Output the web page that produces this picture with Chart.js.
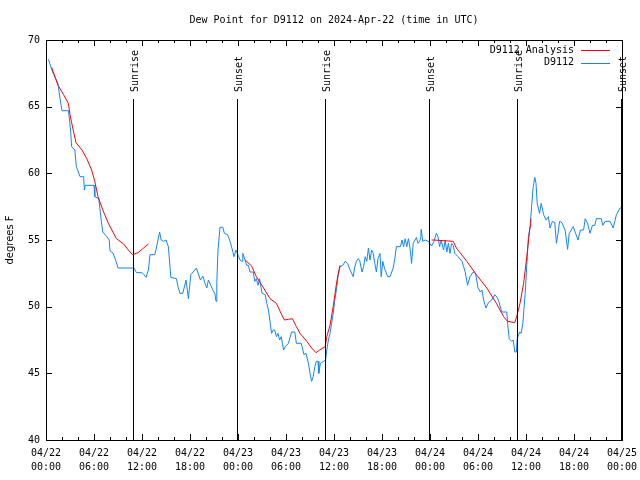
<!DOCTYPE html>
<html>
<head>
<meta charset="utf-8">
<script src="https://cdn.jsdelivr.net/npm/chart.js@4/dist/chart.umd.min.js"></script>
<style>
html,body{margin:0;padding:0;background:#fff;}
canvas{display:block;}
</style>
</head>
<body>
<canvas id="c" width="640" height="480"></canvas>
<script>
// ---- Data (hours since 2024-04-22 00:00 UTC) ----
const chartTitle = 'Dew Point for D9112 on 2024-Apr-22 (time in UTC)';
const yTitle = 'degrees F';
const seriesNames = ['D9112 Analysis', 'D9112'];

const obsHours = [0.3,0.6,0.9,1.3,1.5,1.75,2.0,2.8,2.9,3.1,3.2,3.6,3.8,4.25,4.7,4.8,4.9,6.0,6.1,6.6,6.9,7.1,7.6,7.9,8.0,8.4,8.75,9.0,11.0,11.3,12.0,12.25,12.5,12.8,13.0,13.6,13.8,14.2,14.4,14.7,15.0,15.3,15.6,16.3,16.5,16.75,17.1,17.5,17.8,18.1,18.4,18.8,19.3,19.6,19.9,20.1,20.3,20.6,20.9,21.1,21.25,21.35,21.5,21.75,22.1,22.3,22.7,23.0,23.3,23.5,23.75,24.25,24.5,24.6,25.1,25.3,25.5,25.9,26.1,26.3,26.5,26.7,27.0,27.4,27.6,27.8,28.0,28.2,28.4,28.6,28.8,29.0,29.2,29.4,29.7,29.9,30.3,30.7,31.1,31.3,31.9,32.25,32.5,32.8,33.0,33.2,33.4,33.6,33.8,34.0,34.1,34.3,34.7,34.95,35.1,35.3,35.5,35.7,35.9,36.1,36.3,36.5,36.75,37.1,37.4,37.7,37.9,38.4,38.6,38.8,39.0,39.2,39.5,39.7,39.9,40.1,40.3,40.5,40.7,40.9,41.1,41.3,41.5,41.75,41.9,42.1,42.3,42.7,43.0,43.4,43.6,43.8,44.3,44.5,44.7,44.9,45.1,45.3,45.5,45.7,45.9,46.3,46.5,46.7,46.85,46.9,47.1,47.4,47.8,48.2,48.5,48.8,49.0,49.2,49.4,49.7,49.9,50.1,50.3,50.5,50.7,50.9,51.1,51.5,52.0,52.2,52.4,52.7,53.0,53.4,53.7,54.0,54.3,54.5,54.7,55.0,55.3,55.7,56.1,56.4,56.6,56.9,57.0,57.6,57.7,57.9,58.2,58.4,58.6,58.8,58.9,59.2,59.4,59.6,59.9,60.1,60.3,60.5,60.7,60.9,61.1,61.25,61.4,61.7,61.9,62.2,62.5,62.8,63.0,63.3,63.6,63.8,64.0,64.2,64.5,64.9,65.2,65.4,65.9,66.2,66.5,66.8,67.2,67.4,67.7,68.0,68.3,68.6,68.8,69.4,69.6,69.9,70.5,70.9,71.1,71.3,71.75,71.9];
const obsValues = [68.55,68.0,67.5,67.0,66.7,65.6,64.7,64.7,64.25,63.0,62.0,61.75,60.5,59.75,59.75,58.75,59.1,59.1,58.25,58.1,56.5,55.6,55.25,55.0,54.2,54.0,53.4,52.9,52.9,52.55,52.55,52.4,52.2,52.75,53.9,53.9,54.4,55.6,55.0,54.9,55.0,54.5,52.2,52.1,51.5,51.0,51.0,52.0,50.6,52.4,52.6,52.9,52.0,52.3,51.7,51.4,52.0,51.6,51.2,51.0,50.4,51.8,54.25,55.95,55.95,55.5,55.4,54.9,54.25,53.75,54.25,53.5,53.4,54.0,53.1,53.1,52.6,52.6,51.9,52.1,51.6,52.1,51.0,50.9,50.25,49.75,48.9,48.0,48.25,48.25,47.75,48.0,47.5,47.75,46.75,47.0,47.25,48.1,48.1,47.25,47.25,46.4,46.5,45.75,45.0,44.4,44.75,45.5,45.9,45.9,45.0,45.75,45.9,46.0,46.75,47.5,48.0,48.75,49.5,50.5,51.25,52.25,53.0,53.1,53.4,53.25,52.9,52.25,53.0,53.4,53.6,53.5,52.6,53.0,53.75,53.4,54.4,53.5,54.25,54.0,53.25,52.6,53.6,54.0,52.25,53.4,52.9,52.25,52.25,52.9,53.6,54.5,54.5,55.0,54.5,55.1,54.5,55.1,54.4,53.25,54.75,55.2,54.75,54.9,55.2,55.8,54.9,55.0,54.9,54.55,54.9,55.5,55.25,54.5,55.0,54.25,55.0,54.1,54.75,54.0,54.75,54.6,54.0,53.75,53.4,53.0,52.6,51.6,52.25,52.6,52.5,51.4,51.1,51.25,50.5,49.9,50.3,50.5,50.9,50.7,50.4,49.75,49.6,49.6,48.75,47.6,47.4,47.5,46.6,46.6,47.6,48.1,48.0,48.75,51.0,53.1,55.25,55.9,57.5,59.0,59.7,59.25,57.75,57.0,57.75,56.9,56.5,56.75,55.9,56.4,56.3,54.75,55.5,56.4,56.3,55.7,54.3,55.5,56.0,55.5,55.0,55.75,55.75,56.6,56.25,55.5,56.1,56.1,56.6,56.6,56.1,56.4,56.4,55.9,56.4,56.9,57.4,57.4];

const anaHours = [0.7,1.5,2.2,2.8,3.0,3.4,3.75,4.5,5.1,5.7,6.1,6.5,7.2,7.8,8.8,9.7,10.3,10.8,11.5,12.2,12.8,18.0,24.9,25.7,26.3,27.2,28.0,28.8,29.3,29.8,30.3,30.8,31.3,31.75,32.6,33.2,33.75,34.2,34.9,35.1,35.5,35.9,36.25,36.5,36.75,42.0,48.2,48.4,50.9,51.3,52.6,53.8,55.1,56.3,57.2,57.7,58.6,58.9,59.25,59.7,60.1,60.5,60.6];
const anaValues = [67.95,66.6,65.9,65.25,64.4,63.25,62.3,61.75,61.1,60.25,59.4,58.25,57.1,56.25,55.1,54.7,54.25,53.9,54.05,54.4,54.7,null,53.5,53.05,52.25,51.4,50.6,50.25,49.6,49.0,49.05,49.1,48.5,48.0,47.4,46.9,46.55,46.75,47.0,47.75,48.6,50.0,51.5,52.4,53.1,null,55.0,55.0,54.9,54.4,53.4,52.4,51.4,50.25,49.25,48.9,48.8,49.4,50.25,51.75,53.75,56.0,56.6];

const sunHours = [10.92, 23.91, 34.91, 47.91, 58.91, 71.88];
const sunLabels = ['Sunrise', 'Sunset', 'Sunrise', 'Sunset', 'Sunrise', 'Sunset'];

const tickDates = ['04/22','04/22','04/22','04/22','04/23','04/23','04/23','04/23','04/24','04/24','04/24','04/24','04/25'];
const tickTimes = ['00:00','06:00','12:00','18:00','00:00','06:00','12:00','18:00','00:00','06:00','12:00','18:00','00:00'];

const MONO = '"DejaVu Sans Mono", "Liberation Mono", monospace';
const RED = '#ff0000';
const BLUE = '#1185ff';

const toPts = (xs, ys) => xs.map((x, i) => ({x: x, y: ys[i]}));

const gnuplotDecor = {
  id: 'gnuplotDecor',
  afterDraw(chart) {
    const ctx = chart.ctx;
    const a = chart.chartArea;
    const xs = chart.scales.x, ys = chart.scales.y;
    ctx.save();
    ctx.strokeStyle = '#000';
    ctx.lineWidth = 1;
    // inward ticks: x minor every 2h, major every 6h
    ctx.beginPath();
    for (let h = 0; h <= 72; h += 2) {
      const px = Math.round(xs.getPixelForValue(h)) + 0.5;
      const len = (h % 6 === 0) ? 6 : 3;
      ctx.moveTo(px, a.bottom); ctx.lineTo(px, a.bottom - len);
      ctx.moveTo(px, a.top); ctx.lineTo(px, a.top + len);
    }
    for (let v = 40; v <= 70; v += 5) {
      const py = Math.round(ys.getPixelForValue(v)) + 0.5;
      ctx.moveTo(a.left, py); ctx.lineTo(a.left + 6, py);
      ctx.moveTo(a.right, py); ctx.lineTo(a.right - 6, py);
    }
    ctx.stroke();
    // frame
    ctx.strokeRect(Math.round(a.left) + 0.5, Math.round(a.top) + 0.5, Math.round(a.right - a.left), Math.round(a.bottom - a.top));
    // sunrise / sunset markers
    ctx.font = '10px ' + MONO;
    ctx.fillStyle = '#000';
    sunHours.forEach((h, i) => {
      const px = Math.round(xs.getPixelForValue(h)) + 0.5;
      ctx.beginPath();
      ctx.moveTo(px, 99); ctx.lineTo(px, a.bottom);
      ctx.stroke();
      ctx.save();
      ctx.translate(px + 1.5, 92);
      ctx.rotate(-Math.PI / 2);
      ctx.textAlign = 'left';
      ctx.textBaseline = 'middle';
      ctx.fillText(sunLabels[i], 0, 0);
      ctx.restore();
    });
    // title
    ctx.textAlign = 'center';
    ctx.textBaseline = 'middle';
    ctx.fillText(chartTitle, (a.left + a.right) / 2, 20);
    // legend
    const colors = [RED, BLUE];
    chart.data.datasets.forEach((ds, i) => {
      const y = 50 + i * 12.5;
      ctx.textAlign = 'right';
      ctx.fillStyle = '#000';
      ctx.fillText(ds.label, 574, y);
      ctx.strokeStyle = colors[i];
      ctx.beginPath();
      ctx.moveTo(581, Math.round(y) + 0.5); ctx.lineTo(610, Math.round(y) + 0.5);
      ctx.stroke();
    });
    ctx.restore();
  }
};

new Chart(document.getElementById('c'), {
  type: 'line',
  data: {
    datasets: [
      { label: seriesNames[0], data: toPts(anaHours, anaValues), borderColor: RED, borderWidth: 1, pointRadius: 0, spanGaps: false, tension: 0 },
      { label: seriesNames[1], data: toPts(obsHours, obsValues), borderColor: BLUE, borderWidth: 1, pointRadius: 0, tension: 0 }
    ]
  },
  options: {
    responsive: false,
    animation: false,
    devicePixelRatio: 1,
    layout: { padding: { top: 40, right: 18, left: 0, bottom: 0 } },
    plugins: { legend: { display: false }, tooltip: { enabled: false }, title: { display: false } },
    scales: {
      x: {
        type: 'linear', min: 0, max: 72,
        afterFit: s => { s.height = 40; s.paddingLeft = 0; s.paddingRight = 0; },
        grid: { display: false, drawTicks: false },
        border: { display: false },
        ticks: {
          stepSize: 6, autoSkip: false, maxRotation: 0, padding: 6,
          color: '#000', font: { family: MONO, size: 10, lineHeight: 1.45 },
          callback: (v) => { const i = Math.round(v / 6); return [tickDates[i], tickTimes[i]]; }
        }
      },
      y: {
        min: 40, max: 70,
        afterFit: s => { s.width = 46; s.paddingTop = 0; s.paddingBottom = 0; },
        grid: { display: false, drawTicks: false },
        border: { display: false },
        ticks: { stepSize: 5, padding: 6, color: '#000', font: { family: MONO, size: 10 } },
        title: { display: true, text: yTitle, color: '#000', font: { family: '"DejaVu Sans", sans-serif', size: 10 }, padding: 4 }
      }
    }
  },
  plugins: [gnuplotDecor]
});
</script>
</body>
</html>
